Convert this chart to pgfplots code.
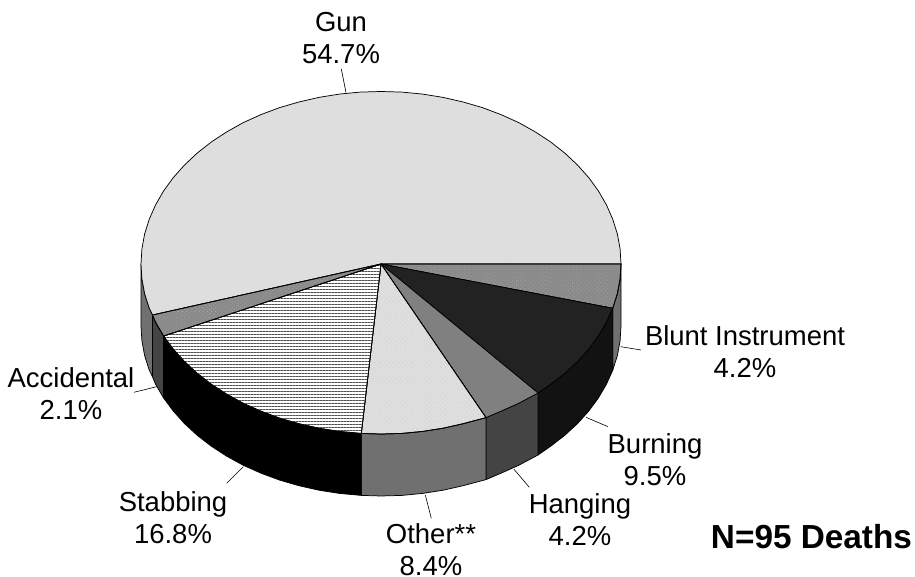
\documentclass[border=0pt]{standalone}
\usepackage{fontspec}
\setmainfont{Liberation Sans}
\usepackage{pgfplots}
\pgfplotsset{compat=1.18}
\usetikzlibrary{patterns.meta}
\definecolor{gunc}{HTML}{DEDEDE}
\definecolor{dotbg}{HTML}{8A8A8A}
\definecolor{burn}{HTML}{222222}
\definecolor{hang}{HTML}{808080}
\definecolor{sidea}{HTML}{707070}
\definecolor{sideb}{HTML}{444444}
\definecolor{sidec}{HTML}{121212}
\tikzset{lab/.style={font=\fontsize{20.6}{24}\selectfont, align=center, inner sep=0pt, anchor=center}}
\begin{document}
\begin{tikzpicture}
\path[use as bounding box] (0,0) rectangle (686.25pt,432.75pt);
\begin{axis}[
  scale only axis, width=686.25pt, height=432.75pt,
  xmin=0, xmax=915, ymin=0, ymax=577, y dir=reverse,
  hide axis, clip=false,
  every axis plot/.append style={black, line width=0.55pt, line join=round, mark=none}
]
% side walls
\addplot[fill=sidea] coordinates {(621,264)(620.1,278.8)(617.4,293.5)(612.7,308.3)(612.7,370.3)(617.4,355.5)(620.1,340.8)(621,326)(621,264)};
\addplot[fill=sidec] coordinates {(612.7,308.3)(606.5,322.1)(598.5,335.8)(588.8,349)(577.6,361.5)(564.8,373.3)(550.7,384.2)(538,393)(538,455)(550.7,446.2)(564.8,435.3)(577.6,423.5)(588.8,411)(598.5,397.8)(606.5,384.1)(612.7,370.3)(612.7,308.3)};
\addplot[fill=sideb] coordinates {(538,393)(518.7,403.3)(501,411.2)(486,417.6)(486,479.6)(501,473.2)(518.7,465.3)(538,455)(538,393)};
\addplot[fill=sidea] coordinates {(486,417.6)(463.1,423.7)(443.1,428.2)(422.7,431.4)(401.9,433.4)(381,434)(361.3,433.4)(361.3,495.4)(381,496)(401.9,495.4)(422.7,493.4)(443.1,490.2)(463.1,485.7)(486,479.6)(486,417.6)};
\addplot[fill=black] coordinates {(361.3,433.4)(339.3,431.4)(318.9,428.2)(298.9,423.7)(279.6,418.1)(261,411.2)(243.3,403.3)(226.7,394.2)(211.3,384.2)(197.2,373.3)(184.4,361.5)(173.2,349)(163.6,336)(163.6,398)(173.2,411)(184.4,423.5)(197.2,435.3)(211.3,446.2)(226.7,456.2)(243.3,465.3)(261,473.2)(279.6,480.1)(298.9,485.7)(318.9,490.2)(339.3,493.4)(361.3,495.4)(361.3,433.4)};
\addplot[fill=sideb] coordinates {(163.6,336)(155.5,322.1)(152.6,315)(152.6,377)(155.5,384.1)(163.6,398)(163.6,336)};
\addplot[fill=sidea] coordinates {(152.6,315)(149.2,308)(144.6,293.5)(141.9,278.8)(141,264)(141,326)(141.9,340.8)(144.6,355.5)(149.2,370)(152.6,377)(152.6,315)};
% top face
\addplot[fill=gunc] coordinates {(381,264)(152.6,315)(149.2,308)(144.6,293.5)(141.9,278.8)(141,264)(141.9,249)(144.6,234.1)(149.2,219.4)(155.5,205)(163.5,191.1)(173.2,177.7)(184.4,165.1)(197.2,153.1)(211.3,142)(226.7,131.9)(243.3,122.6)(261,114.6)(279.6,107.6)(298.9,102)(318.9,97.4)(339.3,94.1)(360.1,92.1)(381,91.5)(401.9,92.1)(422.7,94.1)(443.1,97.4)(463.1,102)(482.4,107.6)(501,114.6)(518.7,122.6)(535.3,131.9)(550.7,142)(564.8,153.1)(577.6,165.1)(588.8,177.7)(598.5,191.1)(606.5,205)(612.8,219.4)(617.4,234.1)(620.1,249)(621,264)(381,264)};
\addplot[fill=dotbg, postaction={pattern={Dots[radius=0.3pt,distance=2.2pt,angle=45]},pattern color=gray!55!white}] coordinates {(381,264)(621,264)(620.1,278.8)(617.4,293.5)(612.7,308.3)(381,264)};
\addplot[fill=burn] coordinates {(381,264)(612.7,308.3)(606.5,322.1)(598.5,335.8)(588.8,349)(577.6,361.5)(564.8,373.3)(550.7,384.2)(538,393)(381,264)};
\addplot[fill=hang] coordinates {(381,264)(538,393)(518.7,403.3)(501,411.2)(486,417.6)(381,264)};
\addplot[fill=gunc, postaction={pattern={Dots[radius=0.3pt,distance=2.5pt,angle=45]},pattern color=gray!45}] coordinates {(381,264)(486,417.6)(463.1,423.7)(443.1,428.2)(422.7,431.4)(401.9,433.4)(381,434)(361.3,433.4)(381,264)};
\addplot[fill=white, postaction={pattern={Lines[angle=0,distance=2.25pt,line width=0.6pt]},pattern color=black!70}] coordinates {(381,264)(361.3,433.4)(339.3,431.4)(318.9,428.2)(298.9,423.7)(279.6,418.1)(261,411.2)(243.3,403.3)(226.7,394.2)(211.3,384.2)(197.2,373.3)(184.4,361.5)(173.2,349)(163.6,336)(381,264)};
\addplot[fill=dotbg, postaction={pattern={Dots[radius=0.3pt,distance=2.2pt,angle=45]},pattern color=gray!55!white}] coordinates {(381,264)(163.6,336)(155.5,322.1)(152.6,315)(381,264)};
% leader lines
\addplot[line width=0.45pt] coordinates {(346,92.5)(341.3,69)};
\addplot[line width=0.45pt] coordinates {(620.7,346.7)(641,350)};
\addplot[line width=0.45pt] coordinates {(586,417.3)(608,426.7)};
\addplot[line width=0.45pt] coordinates {(514,469.3)(529.3,487.3)};
\addplot[line width=0.45pt] coordinates {(425.3,495)(431.3,518.3)};
\addplot[line width=0.45pt] coordinates {(243.3,466.7)(226.7,483.3)};
\addplot[line width=0.45pt] coordinates {(134,392.3)(156.7,386.7)};
% labels
\node[lab] at (axis cs:341,38) {Gun\\54.7\%};
\node[lab] at (axis cs:745,352) {Blunt Instrument\\4.2\%};
\node[lab] at (axis cs:655,460) {Burning\\9.5\%};
\node[lab] at (axis cs:580,520) {Hanging\\4.2\%};
\node[lab] at (axis cs:431,549.5) {Other**\\8.4\%};
\node[lab] at (axis cs:173,518) {Stabbing\\16.8\%};
\node[lab] at (axis cs:71,394) {Accidental\\2.1\%};
\node[font=\fontsize{25}{30}\selectfont\bfseries, inner sep=0pt, anchor=center] at (axis cs:811.5,537) {N=95 Deaths};
\end{axis}
\end{tikzpicture}
\end{document}
